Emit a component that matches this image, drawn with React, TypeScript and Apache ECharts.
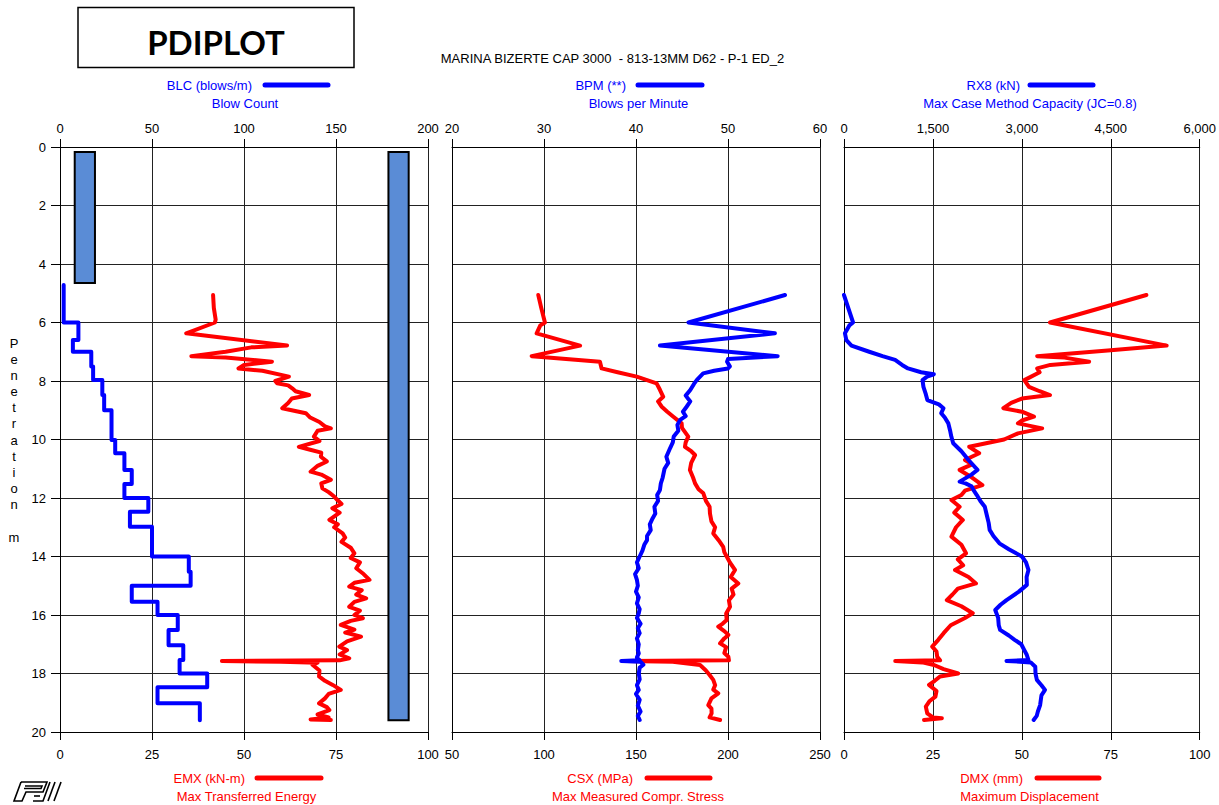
import React, { useEffect, useRef } from "react";
import * as echarts from "echarts";

// ---------------- DATA ----------------
// Penetration (m) axis ticks
const depthTicks = [0, 2, 4, 6, 8, 10, 12, 14, 16, 18, 20];

// Panel 1: BLC (blows/m) step profile – interval edges and values
const blcDepth = [4.72, 6.0, 6.6, 7.0, 7.5, 7.97, 8.48, 9.0, 10.02, 10.47, 11.04, 11.52, 12.0, 12.47, 12.98, 14.0, 14.52, 15.0, 15.55, 16.0, 16.51, 17.03, 17.54, 18.0, 18.47, 19.02, 19.6];
const blcValue = [2, 10, 7, 17, 18, 23, 24, 28, 30, 35, 39, 35, 48, 38, 50, 70, 71, 39, 53, 64, 59, 67, 65, 80, 53, 76];

// Panel 1: hammer/soil bars [BLC-scale x0, x1, depth0, depth1]
const barX0 = [8, 178.5];
const barX1 = [19, 189.5];
const barD0 = [0.17, 0.17];
const barD1 = [4.65, 19.6];

// Panel 1: EMX (kN-m)
const emxDepth = [5.06, 5.5, 5.9, 6.0, 6.37, 6.79, 6.85, 7.0, 7.15, 7.2, 7.34, 7.45, 7.57, 7.65, 7.8, 7.85, 8.0, 8.08, 8.15, 8.25, 8.35, 8.48, 8.6, 8.75, 8.93, 9.1, 9.25, 9.4, 9.55, 9.62, 9.7, 9.9, 10.05, 10.25, 10.35, 10.45, 10.59, 10.75, 10.9, 11.1, 11.2, 11.38, 11.5, 11.67, 11.8, 11.95, 12.07, 12.2, 12.35, 12.5, 12.75, 12.9, 13.0, 13.21, 13.35, 13.5, 13.7, 13.89, 14.05, 14.2, 14.4, 14.6, 14.8, 14.9, 15.03, 15.15, 15.3, 15.43, 15.55, 15.72, 15.85, 16.0, 16.11, 16.2, 16.34, 16.5, 16.6, 16.74, 16.9, 17.08, 17.2, 17.35, 17.48, 17.55, 17.57, 17.6, 17.63, 17.7, 17.9, 18.1, 18.25, 18.39, 18.56, 18.7, 18.85, 19.02, 19.15, 19.25, 19.4, 19.5, 19.57, 19.59];
const emxValue = [41.6, 41.8, 42.3, 42.1, 34.3, 61.7, 52, 45, 35.7, 45, 57.6, 50, 48.5, 55, 60.4, 62.2, 58.5, 59.0, 62, 63.1, 64, 67.7, 63, 62, 60.4, 66.8, 68, 70.5, 72, 73.6, 70, 69.0, 70.5, 64.9, 68, 71, 70.9, 72.5, 70, 68.1, 71, 73.6, 71, 71.3, 73, 74.5, 75.4, 76.5, 74, 76, 73.2, 75.5, 74.5, 76.8, 77.5, 76.5, 79, 80.0, 79, 81.5, 80.5, 82.5, 84.1, 80, 78.6, 82, 80.5, 83.2, 80, 78.6, 81.5, 80, 82.3, 79, 76.3, 80, 77.5, 81.8, 78, 75.9, 78, 76, 78.6, 76, 44, 60, 70, 68.6, 70.5, 70.4, 72, 74.1, 76.3, 73, 72, 70.4, 72.5, 73.2, 70, 73, 68.1, 73.6];

// Panel 2: BPM (**)
const bpmDepth = [5.06, 6.0, 6.37, 6.79, 7.15, 7.25, 7.34, 7.5, 7.57, 7.65, 7.74, 7.97, 8.1, 8.31, 8.5, 8.7, 8.88, 9.05, 9.2, 9.33, 9.5, 9.7, 9.9, 10.1, 10.3, 10.59, 10.8, 11.0, 11.3, 11.5, 11.73, 11.9, 12.1, 12.3, 12.53, 12.7, 12.9, 13.1, 13.3, 13.44, 13.6, 13.8, 14.0, 14.2, 14.4, 14.6, 14.8, 15.0, 15.2, 15.4, 15.6, 15.8, 15.94, 16.1, 16.3, 16.45, 16.62, 16.8, 17.0, 17.2, 17.31, 17.45, 17.55, 17.57, 17.6, 17.7, 17.8, 18.0, 18.2, 18.4, 18.56, 18.7, 18.9, 19.1, 19.3, 19.45, 19.59];
const bpmValue = [56.2, 45.7, 55.1, 42.6, 55.4, 50, 49.9, 50.2, 50.0, 48.5, 47.3, 46.6, 46.3, 45.9, 45.4, 45.9, 45.5, 45.1, 45.4, 44.8, 44.5, 44.6, 44.1, 44.0, 43.7, 43.3, 43.5, 43.1, 42.9, 42.7, 42.6, 42.3, 42.4, 42.0, 42.1, 41.8, 41.5, 41.6, 41.2, 41.2, 40.9, 40.7, 40.4, 40.1, 40.3, 39.9, 40.1, 40.2, 40.0, 40.3, 40.1, 40.4, 40.3, 40.1, 40.5, 40.2, 40.4, 40.1, 40.3, 40.2, 40.3, 40.1, 40.4, 38.4, 40.5, 40.8, 40.4, 40.3, 40.4, 40.1, 40.3, 40.0, 40.4, 40.2, 40.5, 40.2, 40.4];

// Panel 2: CSX (MPa)
const csxDepth = [5.06, 5.5, 6.0, 6.1, 6.37, 6.79, 7.15, 7.2, 7.34, 7.57, 7.7, 7.85, 8.08, 8.3, 8.54, 8.7, 8.88, 9.05, 9.22, 9.45, 9.6, 9.9, 10.1, 10.25, 10.4, 10.53, 10.8, 11.04, 11.3, 11.5, 11.7, 11.84, 12.1, 12.3, 12.53, 12.8, 13.0, 13.21, 13.45, 13.67, 13.85, 14.0, 14.2, 14.46, 14.7, 14.92, 15.1, 15.3, 15.5, 15.72, 15.95, 16.17, 16.3, 16.4, 16.55, 16.68, 16.8, 16.97, 17.1, 17.3, 17.43, 17.55, 17.57, 17.6, 17.71, 17.9, 18.05, 18.22, 18.4, 18.55, 18.68, 18.85, 19.08, 19.2, 19.36, 19.5, 19.59];
const csxValue = [96.9, 98.5, 100.5, 98, 96.0, 119.6, 93.3, 102, 130.4, 131.3, 140, 150.4, 161.2, 163, 164.8, 162, 164.0, 167, 170.3, 174.8, 175, 178.4, 177, 176.6, 180, 182.1, 180, 179.3, 181, 182.1, 184, 186.6, 188, 190, 190.2, 191, 193, 192.0, 195, 197.4, 198, 199.3, 201, 203.8, 201.5, 205.6, 202, 203, 200.5, 201.1, 199, 199.3, 197, 194.7, 198, 200.2, 198, 195.7, 199, 198, 200.2, 200.5, 144.9, 170, 184.8, 188, 190, 192.0, 193, 192, 194.7, 191, 189.3, 191, 191.1, 190, 195.7];

// Panel 3: RX8 (kN)
const rx8Depth = [5.06, 6.0, 6.1, 6.37, 6.6, 6.79, 7.0, 7.15, 7.28, 7.45, 7.57, 7.7, 7.77, 7.85, 7.97, 8.2, 8.45, 8.65, 8.8, 8.93, 9.1, 9.25, 9.45, 9.7, 9.9, 10.13, 10.4, 10.7, 11.04, 11.2, 11.44, 11.5, 11.6, 11.73, 11.9, 12.1, 12.3, 12.6, 12.85, 13.09, 13.3, 13.55, 13.75, 14.0, 14.2, 14.46, 14.7, 14.97, 15.2, 15.49, 15.65, 15.83, 16.1, 16.35, 16.51, 16.7, 16.85, 17.0, 17.2, 17.35, 17.54, 17.57, 17.62, 17.77, 18.0, 18.22, 18.4, 18.56, 18.75, 18.9, 19.08, 19.3, 19.45, 19.59];
const rx8Value = [0, 153, 90, 16, 40, 126, 425, 650, 862, 980, 1079, 1300, 1515, 1400, 1324, 1340, 1380, 1406, 1600, 1678, 1640, 1700, 1760, 1790, 1810, 1842, 1980, 2100, 2251, 2150, 1951, 2050, 2150, 2185, 2240, 2300, 2375, 2410, 2440, 2457, 2520, 2621, 2780, 3002, 3070, 3111, 3080, 3084, 2950, 2741, 2640, 2551, 2600, 2610, 2633, 2780, 2878, 2990, 3041, 3080, 3111, 2741, 3150, 3226, 3230, 3253, 3330, 3390, 3330, 3320, 3308, 3270, 3250, 3199];

// Panel 3: DMX (mm)
const dmxDepth = [5.06, 6.0, 6.79, 6.95, 7.15, 7.2, 7.34, 7.45, 7.57, 7.7, 7.97, 8.2, 8.35, 8.48, 8.6, 8.75, 8.93, 9.05, 9.22, 9.35, 9.45, 9.62, 9.79, 10.0, 10.25, 10.47, 10.7, 10.85, 11.04, 11.3, 11.56, 11.75, 11.9, 12.07, 12.3, 12.5, 12.75, 13.0, 13.32, 13.6, 13.89, 14.1, 14.3, 14.46, 14.7, 14.92, 15.1, 15.3, 15.49, 15.7, 15.94, 16.1, 16.35, 16.62, 16.85, 17.08, 17.25, 17.43, 17.55, 17.57, 17.62, 17.71, 17.85, 18.0, 18.1, 18.25, 18.39, 18.6, 18.79, 18.95, 19.13, 19.36, 19.5, 19.53, 19.59];
const dmxValue = [85.0, 57.9, 90.7, 75, 54.3, 62, 68.9, 58, 54.3, 55, 50.7, 52, 55, 57.9, 50, 47, 44.8, 50, 53.4, 50, 48.9, 55.7, 48.9, 45, 35.2, 38.0, 34, 36, 32.5, 36, 38.9, 34, 33, 30.2, 32.5, 31, 33.4, 31.5, 30.2, 33, 34.3, 32, 33.5, 31.2, 35, 37.1, 32, 30.5, 28.9, 33, 36.2, 34, 30, 28.0, 26.5, 24.8, 26, 26.2, 27, 14.4, 22, 25.3, 28, 32.1, 27, 25.5, 23.9, 26, 25.7, 24, 23.0, 23.4, 25, 27.5, 22.5];

// Axis scales
const blcAxis = { min: 0, max: 200, interval: 50 };
const emxAxis = { min: 0, max: 100, interval: 25 };
const bpmAxis = { min: 20, max: 60, interval: 10 };
const csxAxis = { min: 50, max: 250, interval: 50 };
const rx8Axis = { min: 0, max: 6000, interval: 1500 };
const dmxAxis = { min: 0, max: 100, interval: 25 };

const titleText = "MARINA BIZERTE CAP 3000  - 813-13MM D62 - P-1 ED_2";
const penetrationLetters = ["P", "e", "n", "e", "t", "r", "a", "t", "i", "o", "n", "", "m"];

// ---------------- LAYOUT ----------------
const FONT = '"Liberation Sans", Arial, sans-serif';
const BLUE = "#0000ff";
const RED = "#ff0000";
const GRID_TOP = 147;
const GRID_H = 585;
const PANELS = [
  { left: 60, width: 368 },
  { left: 452, width: 368 },
  { left: 844, width: 367 },
];

const pairs = (vals: number[], depths: number[]) => vals.map((v, i) => [v, depths[i]]);

function stepPairs(edges: number[], vals: number[]) {
  const out: number[][] = [];
  vals.forEach((v, i) => {
    out.push([v, edges[i]]);
    out.push([v, edges[i + 1]]);
  });
  return out;
}

function buildOption() {
  const grid = PANELS.map((p) => ({ left: p.left, top: GRID_TOP, width: p.width, height: GRID_H, containLabel: false }));
  const fmt = (v: number) => v.toLocaleString("en-US");
  const topX = (gi: number, s: any) => ({
    type: "value",
    gridIndex: gi,
    position: "top",
    min: s.min,
    max: s.max,
    interval: s.interval,
    axisLine: { show: true, onZero: false, lineStyle: { color: "#000", width: 1 } },
    axisTick: { show: true, length: 8, lineStyle: { color: "#000" } },
    axisLabel: { show: true, margin: 12, color: "#000", fontSize: 13, fontFamily: FONT, formatter: fmt },
    splitLine: { show: false },
  });
  const botX = (gi: number, s: any) => ({
    type: "value",
    gridIndex: gi,
    position: "bottom",
    min: s.min,
    max: s.max,
    interval: s.interval,
    axisLine: { show: true, onZero: false, lineStyle: { color: "#000", width: 1 } },
    axisTick: { show: true, length: 8, lineStyle: { color: "#000" } },
    axisLabel: { show: true, margin: 16, color: "#000", fontSize: 13, fontFamily: FONT, formatter: fmt },
    splitLine: { show: true, showMinLine: true, showMaxLine: true, lineStyle: { color: "#222", width: 1 } },
  });
  const yAx = (gi: number, labels: boolean) => ({
    type: "value",
    gridIndex: gi,
    inverse: true,
    min: depthTicks[0],
    max: depthTicks[depthTicks.length - 1],
    interval: depthTicks[1] - depthTicks[0],
    axisLine: { show: true, onZero: false, lineStyle: { color: "#000", width: 1 } },
    axisTick: { show: labels, length: 9, lineStyle: { color: "#000" } },
    axisLabel: { show: labels, margin: 14, color: "#000", fontSize: 13, fontFamily: FONT },
    splitLine: { show: true, lineStyle: { color: "#222", width: 1 } },
  });

  const lineSeries = (name: string, xi: number, yi: number, data: number[][], color: string) => ({
    name,
    type: "line",
    xAxisIndex: xi,
    yAxisIndex: yi,
    data,
    showSymbol: false,
    symbol: "none",
    clip: false,
    lineStyle: { color, width: 4, cap: "round", join: "round" },
    z: 3,
  });

  const barData = barX0.map((x0, i) => [x0, barX1[i], barD0[i], barD1[i]]);

  const legendItems = [
    { label: "BLC (blows/m)", sub: "Blow Count", right: 252, l0: 265, l1: 328, subX: 245, y: 85, color: BLUE },
    { label: "BPM (**)", sub: "Blows per Minute", right: 626, l0: 638, l1: 702, subX: 638.5, y: 85, color: BLUE },
    { label: "RX8 (kN)", sub: "Max Case Method Capacity (JC=0.8)", right: 1020, l0: 1030, l1: 1093, subX: 1030, y: 85, color: BLUE },
    { label: "EMX (kN-m)", sub: "Max Transferred Energy", right: 245, l0: 257, l1: 321, subX: 246.5, y: 778, color: RED },
    { label: "CSX (MPa)", sub: "Max Measured Compr. Stress", right: 633, l0: 647, l1: 710, subX: 638, y: 778, color: RED },
    { label: "DMX (mm)", sub: "Maximum Displacement", right: 1023, l0: 1037, l1: 1099, subX: 1029.5, y: 778, color: RED },
  ];

  const graphics: any[] = [];
  legendItems.forEach((it) => {
    graphics.push({
      type: "text",
      style: { text: it.label, x: it.right, y: it.y, textAlign: "right", textVerticalAlign: "middle", fill: it.color, font: `13px ${FONT}` },
    });
    graphics.push({
      type: "line",
      shape: { x1: it.l0, y1: it.y, x2: it.l1, y2: it.y },
      style: { stroke: it.color, lineWidth: 5, lineCap: "round" },
    });
    graphics.push({
      type: "text",
      style: { text: it.sub, x: it.subX, y: it.y + 18.5, textAlign: "center", textVerticalAlign: "middle", fill: it.color, font: `13px ${FONT}` },
    });
  });

  graphics.push({
    type: "text",
    style: { text: titleText, x: 612.5, y: 58, textAlign: "center", textVerticalAlign: "middle", fill: "#000", font: `13px ${FONT}` },
  });
  graphics.push({
    type: "rect",
    shape: { x: 78, y: 7.5, width: 276, height: 60 },
    style: { fill: "#fff", stroke: "#000", lineWidth: 1.5 },
  });
  graphics.push({
    type: "text",
    style: { text: "PDIPLOT", x: 216, y: 42, textAlign: "center", textVerticalAlign: "middle", fill: "#000", font: `bold 33px Lato, "Open Sans", sans-serif` },
  });
  penetrationLetters.forEach((ch, i) => {
    if (!ch) return;
    graphics.push({
      type: "text",
      style: { text: ch, x: 14, y: 343 + i * 16.17, textAlign: "center", textVerticalAlign: "middle", fill: "#000", font: `13px ${FONT}` },
    });
  });
  // PDI logo (outline strokes)
  const logoStroke = { stroke: "#000", lineWidth: 1.6, fill: null };
  const logoPolys = [
    [[8, 0], [34, 0], [30, 10], [13, 10], [9, 19], [1, 19], [8, 0]],
    [[12, 4], [29, 4], [28, 6.5], [11, 6.5]],
    [[20, 19], [30, 19], [37, 0]],
    [[21, 14], [27, 14]],
    [[35, 19], [42, 0]],
    [[41, 19], [48, 0]],
  ];
  graphics.push({
    type: "group",
    x: 13,
    y: 782,
    children: logoPolys.map((pts) => ({ type: "polyline", shape: { points: pts }, style: logoStroke })),
  });

  return {
    animation: false,
    backgroundColor: "#fff",
    textStyle: { fontFamily: FONT },
    grid,
    xAxis: [
      topX(0, blcAxis), botX(0, emxAxis),
      topX(1, bpmAxis), botX(1, csxAxis),
      topX(2, rx8Axis), botX(2, dmxAxis),
    ],
    yAxis: [yAx(0, true), yAx(1, false), yAx(2, false)],
    series: [
      {
        name: "bars",
        type: "custom",
        xAxisIndex: 0,
        yAxisIndex: 0,
        data: barData,
        encode: { x: [0, 1], y: [2, 3] },
        clip: false,
        z: 2,
        renderItem: (_params: any, api: any) => {
          const p0 = api.coord([api.value(0), api.value(2)]);
          const p1 = api.coord([api.value(1), api.value(3)]);
          return {
            type: "rect",
            shape: { x: p0[0], y: p0[1], width: p1[0] - p0[0], height: p1[1] - p0[1] },
            style: { fill: "#5a8cd6", stroke: "#000", lineWidth: 2 },
          };
        },
      },
      lineSeries("BLC", 0, 0, stepPairs(blcDepth, blcValue), BLUE),
      lineSeries("EMX", 1, 0, pairs(emxValue, emxDepth), RED),
      lineSeries("CSX", 3, 1, pairs(csxValue, csxDepth), RED),
      lineSeries("BPM", 2, 1, pairs(bpmValue, bpmDepth), BLUE),
      lineSeries("DMX", 5, 2, pairs(dmxValue, dmxDepth), RED),
      lineSeries("RX8", 4, 2, pairs(rx8Value, rx8Depth), BLUE),
    ],
    graphic: { elements: graphics },
  };
}

export default function App() {
  const ref = useRef<HTMLDivElement>(null);
  useEffect(() => {
    if (!ref.current) return;
    const chart = echarts.init(ref.current, undefined, { renderer: "svg" });
    chart.setOption(buildOption() as any);
    return () => chart.dispose();
  }, []);
  return (
    <div
      ref={ref}
      style={{ position: "fixed", left: 0, top: 0, width: 1219, height: 805, background: "#fff" }}
    />
  );
}
